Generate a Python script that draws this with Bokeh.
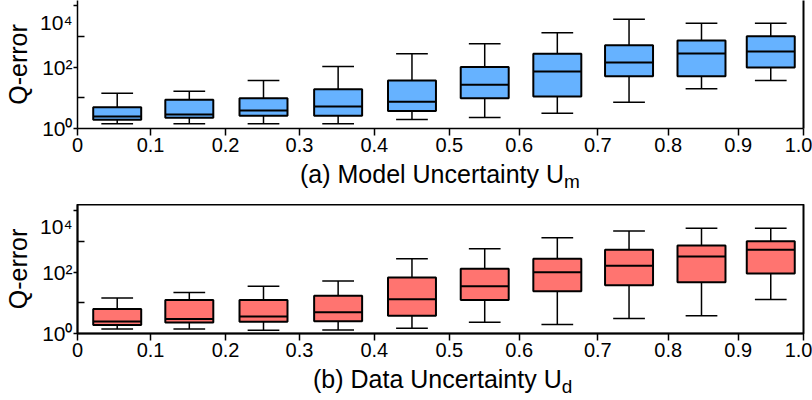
import numpy as np
from bokeh.plotting import figure
from bokeh.layouts import column
from bokeh.models import ColumnDataSource, FixedTicker, Range1d, LinearAxis, Div
from bokeh.embed import file_html
from bokeh.resources import INLINE

# ---- data ----
positions = [0.0547, 0.1540, 0.2562, 0.3590, 0.4607, 0.5609, 0.6609, 0.7597, 0.8595, 0.9549]
xtick_positions = [0, 0.1006, 0.2039, 0.3058, 0.4088, 0.5121, 0.6085, 0.7167, 0.8136, 0.9101, 1.0]
xtick_labels = ["0", "0.1", "0.2", "0.3", "0.4", "0.5", "0.6", "0.7", "0.8", "0.9", "1.0"]
ytick_major = [1, 100, 10000]
ytick_labels = ["10⁰", "10²", "\n10⁴"]   # top label hangs below its tick, as in the reference
ytick_minor = [10, 1000]

model_lo = [1.42, 1.42, 1.42, 1.42, 1.96, 2.28, 3.15, 7.2, 19.6, 36.6]
model_q1 = [1.92, 2.23, 2.6, 2.6, 3.7, 9.7, 11, 50.6, 50.6, 97]
model_med = [2.46, 2.86, 3.86, 5.2, 7.4, 26.5, 72, 141, 277, 322]
model_q3 = [4.9, 8.6, 9.7, 19, 36.6, 100, 272, 518, 735, 1020]
model_hi = [14, 16.4, 36.6, 104, 272, 575, 1310, 3640, 2690, 2690]

data_lo = [1.41, 1.41, 1.27, 1.31, 1.48, 2.33, 1.95, 3.07, 3.76, 12.8]
data_q1 = [1.9, 2.27, 2.4, 2.5, 3.76, 12.5, 24, 37.6, 47, 91]
data_med = [2.45, 3.0, 3.56, 4.9, 13.1, 35, 100, 162, 326, 540]
data_q3 = [6.35, 12.5, 12.5, 16.9, 67, 129, 275, 540, 745, 1030]
data_hi = [14.5, 21.7, 34.9, 52, 275, 580, 1330, 2190, 2740, 2740]

BOX_W = 0.0661
CAP_W = 0.0437
FONT = "Liberation Sans"


def panel(lo, q1, med, q3, hi, fill, height, y_top, closed):
    p = figure(width=812, height=height, x_range=Range1d(0, 1),
               y_range=Range1d(1, y_top), y_axis_type="log",
               output_backend="svg", toolbar_location=None,
               min_border_left=77, min_border_right=9, min_border_top=0,
               min_border_bottom=32)
    p.xgrid.visible = False
    p.ygrid.visible = False
    x = np.array(positions)
    src = ColumnDataSource(dict(x=x, lo=lo, q1=q1, med=med, q3=q3, hi=hi,
                                cx0=x - CAP_W / 2, cx1=x + CAP_W / 2,
                                bx0=x - BOX_W / 2, bx1=x + BOX_W / 2))
    p.segment(x0="x", y0="q3", x1="x", y1="hi", source=src, line_color="black", line_width=1.5)
    p.segment(x0="x", y0="lo", x1="x", y1="q1", source=src, line_color="black", line_width=1.5)
    p.segment(x0="cx0", y0="hi", x1="cx1", y1="hi", source=src, line_color="black", line_width=1.5)
    p.segment(x0="cx0", y0="lo", x1="cx1", y1="lo", source=src, line_color="black", line_width=1.5)
    p.vbar(x="x", width=BOX_W, bottom="q1", top="q3", source=src,
           fill_color=fill, line_color="black", line_width=2)
    p.segment(x0="bx0", y0="med", x1="bx1", y1="med", source=src, line_color="black", line_width=2)

    xa = p.xaxis[0]
    xa.ticker = FixedTicker(ticks=xtick_positions)
    xa.major_label_overrides = {t: l for t, l in zip(xtick_positions, xtick_labels)}
    xa.major_tick_out = 7
    xa.major_tick_in = 0
    xa.minor_tick_out = 0
    xa.minor_tick_in = 0
    xa.axis_line_width = 1.5
    xa.major_tick_line_width = 1.5
    xa.major_label_standoff = 2
    xa.major_label_text_font = FONT
    xa.major_label_text_font_size = "20px"
    xa.major_label_text_color = "black"

    ya = p.yaxis[0]
    ya.ticker = FixedTicker(ticks=ytick_major, minor_ticks=ytick_minor)
    ya.major_label_overrides = {t: l for t, l in zip(ytick_major, ytick_labels)}
    ya.major_tick_out = 4
    ya.major_tick_in = 0
    ya.minor_tick_out = 0
    ya.minor_tick_in = 7
    ya.axis_line_width = 1.5
    ya.major_tick_line_width = 1.5
    ya.minor_tick_line_width = 1.5
    ya.major_label_standoff = 1
    ya.major_label_text_font = FONT
    ya.major_label_text_font_size = "21px"
    ya.major_label_text_line_height = 0.45
    ya.major_label_text_color = "black"
    ya.axis_label = "Q-error"
    ya.axis_label_text_font = FONT
    ya.axis_label_text_font_size = "25px"
    ya.axis_label_text_font_style = "normal"
    ya.axis_label_text_color = "black"
    ya.axis_label_standoff = 5

    if closed:
        p.outline_line_color = "black"
        p.outline_line_width = 2
        p.outline_line_alpha = 1
    else:
        p.outline_line_color = None
        ra = LinearAxis(ticker=FixedTicker(ticks=[]), major_tick_out=0, major_tick_in=0,
                        minor_tick_out=0, minor_tick_in=0,
                        major_label_text_font_size="0px", axis_line_width=2)
        p.add_layout(ra, "right")
    return p


def caption(main_txt, sub_txt, left, height):
    html = ('<div style="font-family:\'Liberation Sans\',Arial,sans-serif;font-size:25px;'
            'line-height:29px;color:black;white-space:nowrap;margin:0;padding:0 0 0 %dpx;">'
            '%s<span style="font-size:19px;position:relative;top:5px;">%s</span></div>'
            % (left, main_txt, sub_txt))
    return Div(text=html, width=812, height=height, margin=(0, 0, 0, 0))


p1 = panel(model_lo, model_q1, model_med, model_q3, model_hi, "#66B2FF",
           160, 10 ** (128 / 30.7), False)
c1 = caption("(a) Model Uncertainty U", "m", 300, 44)
p2 = panel(data_lo, data_q1, data_med, data_q3, data_hi, "#FF7470",
           161, 10 ** (129 / 30.65), True)
c2 = caption("(b) Data Uncertainty U", "d", 313, 35)

layout = column(p1, c1, p2, c2, spacing=0)
open("out.html", "w").write(file_html(layout, INLINE))
